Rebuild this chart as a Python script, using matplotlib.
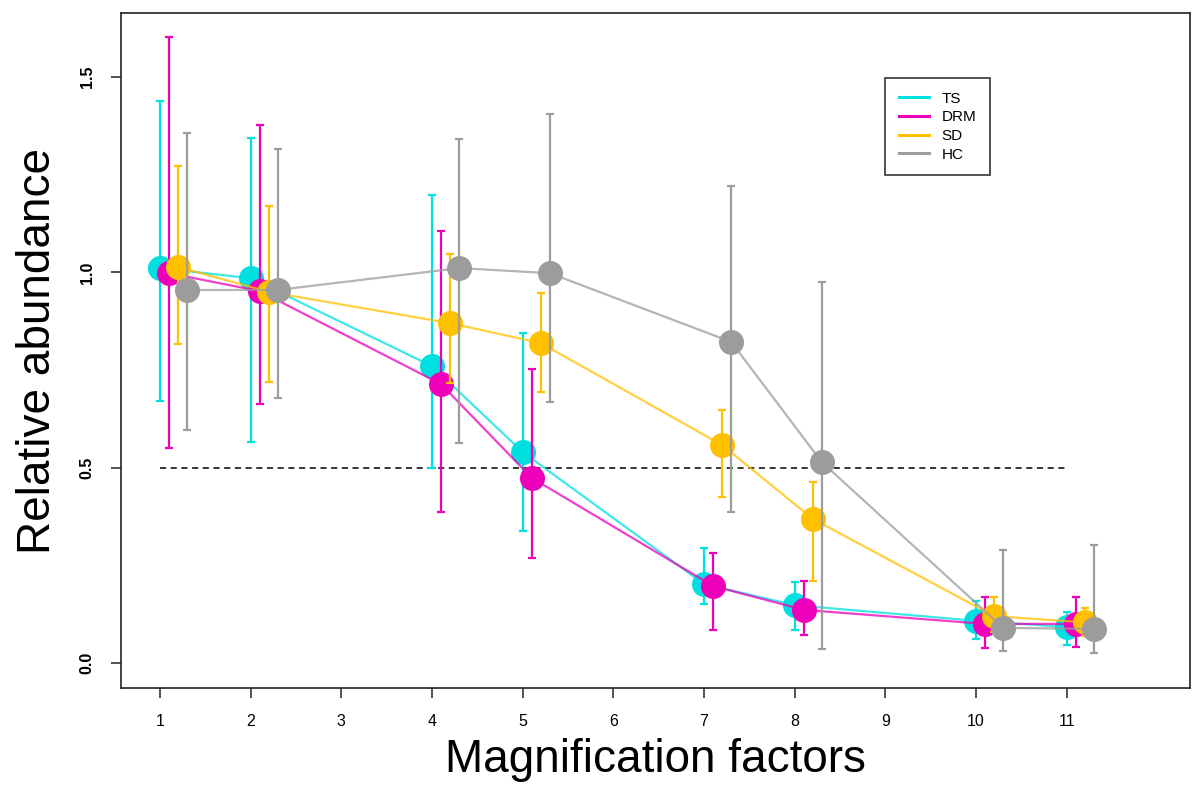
import matplotlib
matplotlib.use("Agg")
import matplotlib.pyplot as plt
import numpy as np

plt.rcParams['font.family'] = ['Liberation Sans', 'DejaVu Sans']

factors = [1, 2, 4, 5, 7, 8, 10, 11]
series_names = ["TS", "DRM", "SD", "HC"]
offsets = [0.0, 0.1, 0.2, 0.3]
colors = ["#00E0E0", "#EE00BB", "#FFC000", "#9C9C9C"]

ts_mean = [1.011, 0.985, 0.760, 0.540, 0.202, 0.148, 0.108, 0.092]
ts_hi   = [1.439, 1.343, 1.198, 0.845, 0.295, 0.207, 0.159, 0.130]
ts_lo   = [0.671, 0.566, 0.500, 0.338, 0.150, 0.084, 0.061, 0.046]

drm_mean = [0.998, 0.952, 0.714, 0.474, 0.197, 0.136, 0.100, 0.100]
drm_hi   = [1.603, 1.377, 1.106, 0.753, 0.282, 0.210, 0.169, 0.169]
drm_lo   = [0.551, 0.662, 0.387, 0.269, 0.084, 0.072, 0.039, 0.042]

sd_mean = [1.014, 0.950, 0.870, 0.819, 0.558, 0.369, 0.120, 0.104]
sd_hi   = [1.273, 1.171, 1.047, 0.948, 0.647, 0.463, 0.169, 0.140]
sd_lo   = [0.816, 0.719, 0.716, 0.693, 0.426, 0.210, 0.080, 0.070]

hc_mean = [0.955, 0.955, 1.011, 0.998, 0.822, 0.514, 0.090, 0.087]
hc_hi   = [1.357, 1.316, 1.341, 1.405, 1.221, 0.975, 0.290, 0.302]
hc_lo   = [0.596, 0.678, 0.562, 0.669, 0.387, 0.035, 0.031, 0.026]

threshold = 0.5
x_ticks = list(range(1, 12))

means = [ts_mean, drm_mean, sd_mean, hc_mean]
highs = [ts_hi, drm_hi, sd_hi, hc_hi]
lows = [ts_lo, drm_lo, sd_lo, hc_lo]

fig = plt.figure(figsize=(11.93, 7.85), dpi=100)
ax = fig.add_axes([0.1014, 0.1236, 0.8961, 0.8598])

ax.plot([factors[0], factors[-1]], [threshold, threshold], color="black",
        linestyle=(0, (4, 3)), linewidth=1.1, zorder=1)

for i, name in enumerate(series_names):
    x = np.array(factors) + offsets[i]
    m = np.array(means[i])
    hi = np.array(highs[i])
    lo = np.array(lows[i])
    ax.errorbar(x, m, yerr=[m - lo, hi - m], fmt='none', ecolor=colors[i],
                elinewidth=1.6, capsize=3, capthick=1.6, zorder=2 + i * 3)
    ax.plot(x, m, color=colors[i], linewidth=1.6, alpha=0.75, zorder=3 + i * 3,
            label=name)
    ax.plot(x, m, linestyle='none', marker='o', markersize=17,
            markerfacecolor=colors[i], markeredgecolor=colors[i], zorder=4 + i * 3)

ax.set_xlim(0.57, 12.36)
ax.set_ylim(-0.064, 1.664)
ax.set_xticks(x_ticks)
ax.set_xticklabels([str(t) for t in x_ticks], fontsize=11.5)
ax.set_yticks([0.0, 0.5, 1.0, 1.5])
ax.set_yticklabels(["0.0", "0.5", "1.0", "1.5"], rotation=90, fontsize=11.5,
                   fontweight='bold', va='center')
ax.tick_params(axis='both', direction='out', length=7, width=1.2, color='#333333')
ax.tick_params(axis='x', pad=12)
ax.tick_params(axis='y', pad=12)
for s in ax.spines.values():
    s.set_linewidth(1.2)
    s.set_color('#222222')

ax.set_xlabel("Magnification factors", fontsize=33, labelpad=6)
ax.set_ylabel("Relative abundance", fontsize=33, labelpad=14)

leg = ax.legend(loc='upper left', bbox_to_anchor=(0.7075, 0.915), fontsize=11,
                frameon=True, fancybox=False, edgecolor='black', handlelength=2.0,
                handletextpad=0.8, borderpad=0.9, labelspacing=0.3)
for line in leg.get_lines():
    line.set_alpha(1.0)
    line.set_linewidth(2.2)
leg.get_frame().set_linewidth(1.2)

fig.savefig("out.png", dpi=100)
